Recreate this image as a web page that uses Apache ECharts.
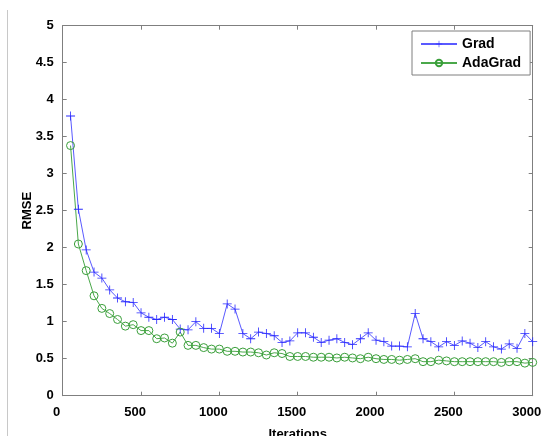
<!DOCTYPE html>
<html>
<head>
<meta charset="utf-8">
<script src="https://cdn.jsdelivr.net/npm/echarts@6/dist/echarts.min.js"></script>
<style>html,body{margin:0;padding:0;background:#fff}#c{width:545px;height:436px}</style>
</head>
<body>
<div id="c"></div>
<script>
const iterations = [50,100,150,200,250,300,350,400,450,500,550,600,650,700,750,800,850,900,950,1000,
1050,1100,1150,1200,1250,1300,1350,1400,1450,1500,1550,1600,1650,1700,1750,1800,1850,1900,1950,2000,
2050,2100,2150,2200,2250,2300,2350,2400,2450,2500,2550,2600,2650,2700,2750,2800,2850,2900,2950,3000];
const grad = [3.78,2.52,1.97,1.67,1.59,1.43,1.32,1.27,1.26,1.12,1.06,1.03,1.06,1.03,0.90,0.89,1.00,0.91,0.91,0.84,
1.24,1.17,0.84,0.77,0.86,0.84,0.81,0.72,0.74,0.85,0.85,0.79,0.72,0.75,0.77,0.72,0.69,0.77,0.85,0.75,
0.73,0.67,0.67,0.66,1.11,0.77,0.73,0.66,0.73,0.68,0.74,0.71,0.65,0.73,0.66,0.63,0.70,0.64,0.84,0.73];
const adaGrad = [3.38,2.05,1.69,1.35,1.18,1.11,1.03,0.94,0.96,0.88,0.88,0.77,0.78,0.71,0.86,0.68,0.68,0.65,0.63,0.63,
0.60,0.60,0.59,0.59,0.58,0.55,0.58,0.57,0.53,0.53,0.53,0.52,0.52,0.52,0.51,0.52,0.51,0.50,0.52,0.50,
0.49,0.49,0.48,0.49,0.50,0.46,0.46,0.48,0.47,0.46,0.46,0.46,0.46,0.46,0.46,0.45,0.46,0.46,0.44,0.45];
const xTicks = [0,500,1000,1500,2000,2500,3000];
const yTicks = [0,0.5,1,1.5,2,2.5,3,3.5,4,4.5,5];

const font = 'Liberation Sans, Arial, sans-serif';
const axisColor = '#7f7f7f';
const plus = 'path://M4.55,0h0.9v10h-0.9zM0,4.55h10v0.9h-10z';
const lbl = {color:'#000', fontFamily:font, fontWeight:'bold', fontSize:13};

const chart = echarts.init(document.getElementById('c'), null, {renderer:'canvas'});
const baseX = {type:'value', min:0, max:3000, interval:500,
  axisLine:{show:true, onZero:false, lineStyle:{color:axisColor}},
  axisTick:{show:true, inside:true, length:4, lineStyle:{color:axisColor}},
  splitLine:{show:false}};
const baseY = {type:'value', min:0, max:5, interval:0.5,
  axisLine:{show:true, onZero:false, lineStyle:{color:axisColor}},
  axisTick:{show:true, inside:true, length:4, lineStyle:{color:axisColor}},
  splitLine:{show:false}};
chart.setOption({
  animation:false,
  backgroundColor:'#fff',
  grid:{left:62.7, right:12.3, top:25.7, bottom:40.3, containLabel:false, outerBoundsMode:'none'},
  graphic:[{type:'line', shape:{x1:7.5,y1:10,x2:7.5,y2:436}, style:{stroke:'#c8c8c8', lineWidth:1}}],
  xAxis:[
    Object.assign({}, baseX, {position:'bottom', name:'Iterations', nameLocation:'middle', nameGap:32,
      nameMoveOverlap:false,
      nameTextStyle:Object.assign({}, lbl),
      axisLabel:Object.assign({}, lbl, {margin:10, padding:[0,12,0,0], formatter:v=>xTicks.includes(v)?String(v):''})}),
    Object.assign({}, baseX, {position:'top', axisLabel:{show:false}})
  ],
  yAxis:[
    Object.assign({}, baseY, {position:'left', name:'RMSE', nameLocation:'middle', nameGap:29,
      nameMoveOverlap:false,
      nameRotate:90, nameTextStyle:Object.assign({}, lbl),
      axisLabel:Object.assign({}, lbl, {margin:9, formatter:v=>yTicks.includes(v)?String(v):''})}),
    Object.assign({}, baseY, {position:'right', axisLabel:{show:false}})
  ],
  legend:{
    orient:'vertical', left:412, top:31,
    backgroundColor:'#fff', borderColor:'#7f7f7f', borderWidth:1, borderRadius:0,
    padding:[6,9,5,8], itemGap:5, itemWidth:36, itemHeight:8,
    textStyle:Object.assign({}, lbl, {fontSize:14, lineHeight:14}),
    data:['Grad','AdaGrad']
  },
  series:[
    {name:'Grad', type:'line', data:iterations.map((x,i)=>[x,grad[i]]),
     symbol:plus, symbolSize:9, showSymbol:true,
     lineStyle:{color:'#5a5aff', width:1}, itemStyle:{color:'#2a2aff'}},
    {name:'AdaGrad', type:'line', data:iterations.map((x,i)=>[x,adaGrad[i]]),
     symbol:'circle', symbolSize:8, showSymbol:true,
     lineStyle:{color:'#4aa84a', width:1}, itemStyle:{color:'rgba(0,0,0,0)', borderColor:'#3a9f3a', borderWidth:1}}
  ]
});
</script>
</body>
</html>
